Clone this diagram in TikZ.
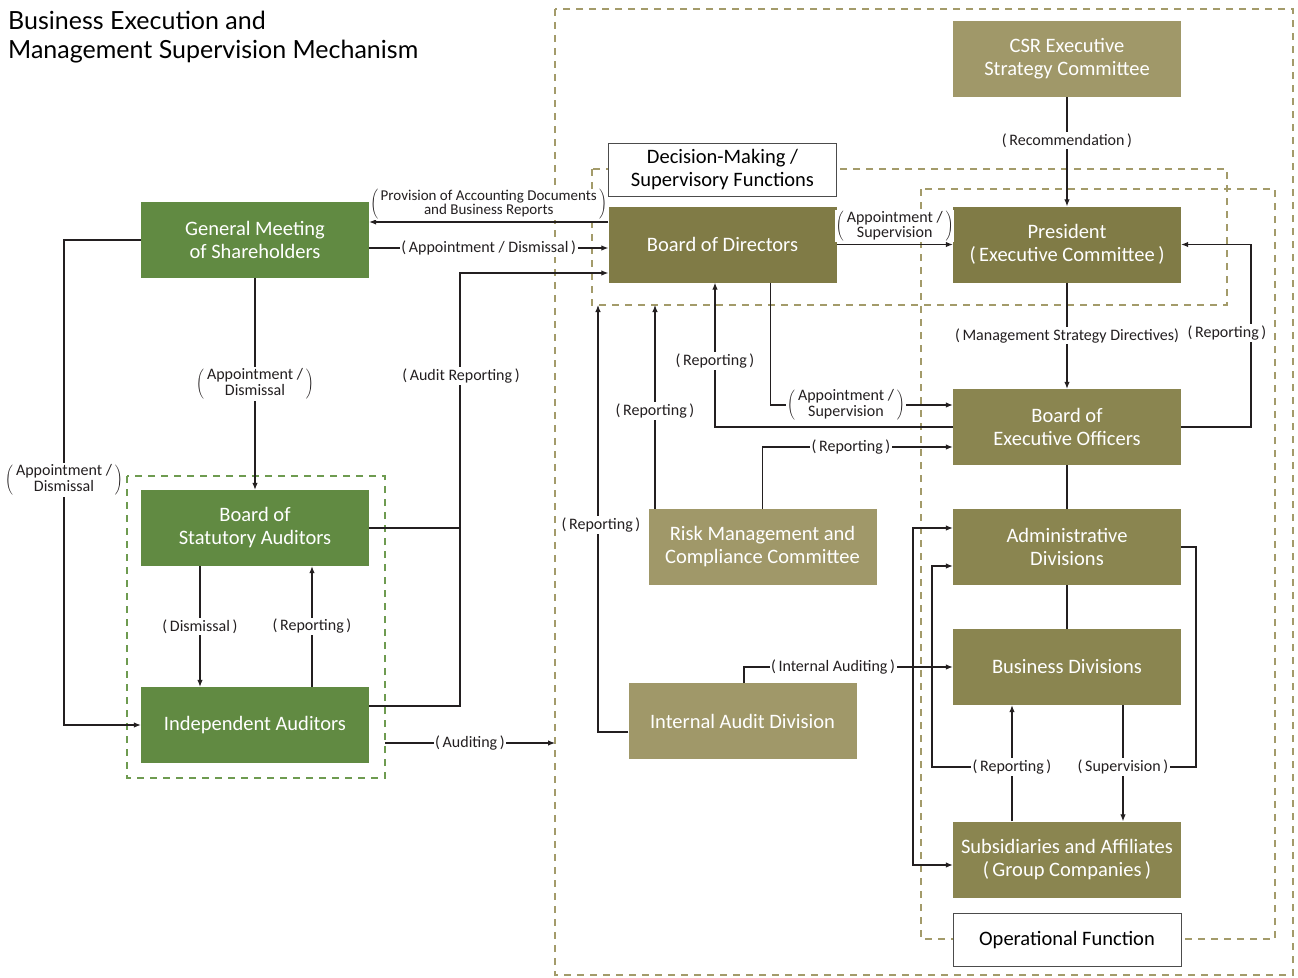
\documentclass[tikz,border=0pt]{standalone}
\usepackage{fontspec}
\setmainfont{Carlito}
\newfontfamily\titlefont{Lato}
\usetikzlibrary{arrows.meta}
\definecolor{boxgreen}{HTML}{618A42}
\definecolor{boxolive}{HTML}{8A8550}
\definecolor{boxoliveD}{HTML}{807B46}
\definecolor{boxoliveL}{HTML}{A09869}
\definecolor{dashOlive}{HTML}{A39B6A}
\definecolor{dashGreen}{HTML}{6E9B50}
\definecolor{linegray}{HTML}{231F20}
\begin{document}
\begin{tikzpicture}[x=1pt, y=-1pt,
	box/.style={minimum width=228pt, minimum height=76pt, inner sep=0pt, align=center, text=white, font=\fontsize{20.5}{23}\selectfont},
	gbox/.style={box, fill=boxgreen},
	obox/.style={box, fill=boxolive},
	dbox/.style={box, fill=boxoliveD},
	lbox/.style={box, fill=boxoliveL},
	wbox/.style={box, fill=white, draw=black!70, line width=0.8pt, text=black, minimum height=53pt},
	lbl/.style={fill=white, inner sep=1.5pt, text=linegray, font=\fontsize{16}{17.5}\selectfont},
	con/.style={draw=linegray, line width=1.1pt},
	arr/.style={con, -{Latex[length=7pt, width=5.5pt]}},
	darr/.style={con, {Latex[length=7pt, width=5.5pt]}-{Latex[length=7pt, width=5.5pt]}},
	dashbox/.style={draw=dashOlive, line width=1.4pt, dash pattern=on 7pt off 6pt},
]
	% \pairlbl#line1#line2
	\def\pairlbl#1#2{{\def\arraystretch{.85}$\left(\,\begin{tabular}{@{}c@{}}#1\\#2\end{tabular}\,\right)$}}

	\useasboundingbox (0,0) rectangle (1298,977);

	% title
	\node[anchor=north west, align=left, inner sep=0pt, font=\titlefont\fontsize{25}{29}\selectfont] (title) at (8,11) {Business Execution and\\Management Supervision Mechanism};

	% dashed areas
	\draw[dashbox] (555,9) rectangle (1293,975);
	\draw[dashbox] (592,169) rectangle (1227,305);
	\draw[dashbox] (921,189) rectangle (1275,939);
	\draw[dashbox, draw=dashGreen] (127,476) rectangle (385,778);
	\coordinate (supB) at (600,305);

	% boxes
	\node[gbox] (gms) at (255,240) {General Meeting\\of Shareholders};
	\node[gbox] (bsa) at (255,528) {Board of\\Statutory Auditors};
	\node[gbox] (ia) at (255,725) {Independent Auditors};
	\node[wbox] (dm) at (722.5,169.5) {Decision-Making /\\Supervisory Functions};
	\node[dbox] (bod) at (722.5,244.5) {Board of Directors};
	\node[lbox] (csr) at (1067,59) {CSR Executive\\Strategy Committee};
	\node[dbox] (pres) at (1067,244.5) {President\\(\,Executive Committee\,)};
	\node[obox] (beo) at (1067,427) {Board of\\Executive Officers};
	\node[lbox] (rmcc) at (762.5,547) {Risk Management and\\Compliance Committee};
	\node[obox] (adm) at (1067,547) {Administrative\\Divisions};
	\node[obox] (bd) at (1067,667) {Business Divisions};
	\node[lbox] (iad) at (742.5,721) {Internal Audit Division};
	\node[obox] (subs) at (1067,859.5) {Subsidiaries and Affiliates\\(\,Group Companies\,)};
	\node[wbox] (opf) at (1067,940) {Operational Function};

	% free ends and bends
	\coordinate (lftx) at (64,480);
	\coordinate (audx) at (460,273);
	\coordinate (audL) at (385,743);
	\coordinate (audR) at (555,743);
	\coordinate (iadx) at (598,305);
	\coordinate (rtx) at (1251,333);
	\coordinate (ivx) at (913,700);
	\coordinate (repJ) at (1012,767);
	\coordinate (supJ) at (1123,767);
	\coordinate (admL) at (932,767);
	\coordinate (admR) at (1196,767);

	% shareholders and auditors
	\draw[arr] ([yshift=22.5pt]bod.west) -- ([yshift=22.5pt]bod.west -| gms.east)
		node[midway, above=1.5pt, lbl, inner sep=0.5pt, font=\fontsize{15}{17}\selectfont] {\pairlbl{Provision of Accounting Documents}{and Business Reports}};
	\draw[arr] ([yshift=-8pt]gms.east) -- ([yshift=-3.5pt]bod.west) node[midway, lbl] {(\,Appointment / Dismissal\,)};
	\draw[arr] (gms) -- (bsa) node[midway, lbl] {\pairlbl{Appointment /}{Dismissal}};
	\draw[arr] (gms.west) -| (lftx) |- (ia.west);
	\node[lbl] at (lftx) {\pairlbl{Appointment /}{Dismissal}};
	\draw[arr] ([xshift=-55pt]bsa.south) -- ([xshift=-55pt]ia.north) node[midway, lbl] {(\,Dismissal\,)};
	\draw[arr] ([xshift=57pt]ia.north) -- ([xshift=57pt]bsa.south) node[midway, lbl] {(\,Reporting\,)};
	\draw[con] (bsa.east) -- (bsa.east -| audx);
	\draw[arr] ([yshift=19pt]ia.east) -| (audx) -- (audx -| bod.west);
	\node[lbl] at (461,376) {(\,Audit Reporting\,)};
	\draw[arr] (audL) -- (audR) node[midway, lbl] {(\,Auditing\,)};

	% supervision
	\draw[arr] (csr) -- (pres) node[pos=.4, lbl] {(\,Recommendation\,)};
	\draw[arr] (bod.east |- pres) -- (pres.west) node[midway, above=1.5pt, lbl, inner sep=0.5pt] {\pairlbl{Appointment /}{Supervision}};
	\draw[arr] (pres) -- (beo) node[midway, lbl] {(\,Management Strategy Directives)};
	\draw[arr] (beo.east) -| (rtx) |- (pres.east);
	\node[lbl] at (1227,333) {(\,Reporting\,)};
	\draw[arr] (beo.west) -| ([xshift=-7.5pt]bod.south);
	\node[lbl] at (715,361) {(\,Reporting\,)};
	\draw[arr] ([xshift=48pt]bod.south) |- ([yshift=22pt]beo.west);
	\node[lbl] at (846,405) {\pairlbl{Appointment /}{Supervision}};
	\draw[arr] (rmcc.north) |- ([yshift=-20pt]beo.west);
	\node[lbl] at (851,447) {(\,Reporting\,)};
	\draw[arr] ([xshift=-107.5pt]rmcc.north) -- ([xshift=-107.5pt]rmcc.north |- supB)
		node[pos=.48, lbl] {(\,Reporting\,)};
	\draw[arr] ([yshift=-11pt]iad.west) -| (iadx);
	\node[lbl] at (601,525) {(\,Reporting\,)};

	% operation
	\draw[con] (beo) -- (adm);
	\draw[con] (adm) -- (bd);
	\draw[arr] ([xshift=1.5pt]iad.north) |- (bd.west);
	\node[lbl] at (833,667) {(\,Internal Auditing\,)};
	\draw[darr] ([yshift=19pt]adm.west) -| (ivx) |- ([yshift=-5.5pt]subs.west);
	\draw[arr] ([xshift=-55pt]subs.north) -- ([xshift=-55pt]bd.south);
	\draw[arr] (repJ) -- (admL) |- ([yshift=-19pt]adm.west);
	\node[lbl] at (repJ) {(\,Reporting\,)};
	\draw[arr] ([xshift=56pt]bd.south) -- ([xshift=56pt]subs.north);
	\draw[con] (adm.east) -| (admR) -- (supJ);
	\node[lbl] at (supJ) {(\,Supervision\,)};
\end{tikzpicture}
\end{document}
